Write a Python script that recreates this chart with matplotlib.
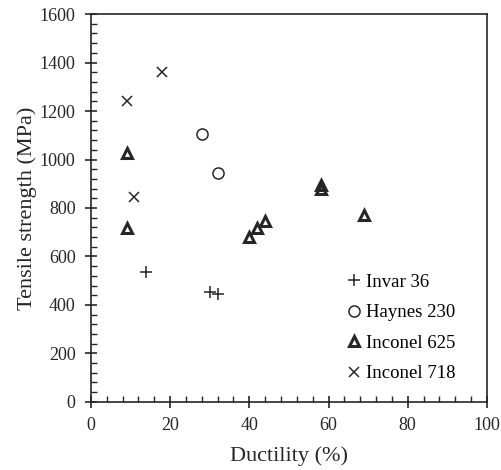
import matplotlib
matplotlib.use("Agg")
import matplotlib.pyplot as plt
from matplotlib.ticker import MultipleLocator

plt.rcParams['font.family'] = ['Liberation Serif', 'DejaVu Serif']

invar_x = [14, 30, 32]
invar_y = [535, 455, 447]
haynes_x = [28, 32]
haynes_y = [1105, 943]
in625_x = [9, 9, 40, 42, 44, 58, 58, 69]
in625_y = [1028, 719, 682, 719, 748, 880, 895, 770]
in718_x = [18, 9, 11]
in718_y = [1360, 1241, 847]

col = '#262626'
fig = plt.figure(figsize=(5.02, 4.70), dpi=100)
ax = fig.add_axes([0.181, 0.145, 0.789, 0.825])

ax.plot(invar_x, invar_y, linestyle='none', marker='+', ms=8, mew=1.1, color=col, label='Invar 36')
ax.plot(haynes_x, haynes_y, linestyle='none', marker='o', ms=8, mew=1.1, mfc='none', mec=col, label='Haynes 230')
ax.plot(in625_x, in625_y, linestyle='none', marker='^', ms=7.5, mew=2.2, mfc='none', mec=col, label='Inconel 625')
ax.plot(in718_x, in718_y, linestyle='none', marker='x', ms=7.5, mew=1.1, color=col, label='Inconel 718')

ax.set_xlim(0, 100)
ax.set_ylim(0, 1600)
ax.xaxis.set_major_locator(MultipleLocator(20))
ax.xaxis.set_minor_locator(MultipleLocator(4))
ax.yaxis.set_major_locator(MultipleLocator(200))
ax.yaxis.set_minor_locator(MultipleLocator(40))
ax.tick_params(which='major', direction='inout', length=8, width=1.2, labelsize=13, colors=col, pad=7)
ax.tick_params(which='minor', direction='in', length=4, width=1.0, colors=col)
ax.tick_params(top=False, right=False, which='both')
for s in ax.spines.values():
    s.set_linewidth(1.2)
    s.set_color(col)

ax.set_xlabel('Ductility (%)', fontsize=16, color=col)
ax.set_ylabel('Tensile strength (MPa)', fontsize=16, color=col)
ax.xaxis.set_label_coords(0.5, -0.115)
ax.yaxis.set_label_coords(-0.137, 0.5)

ax.legend(loc='lower left', frameon=False, fontsize=13.5, handlelength=0.8, handletextpad=0.25,
          labelspacing=0.72, bbox_to_anchor=(0.645, 0.05), borderpad=0.0, borderaxespad=0.0)

fig.savefig('out.png', dpi=100)
